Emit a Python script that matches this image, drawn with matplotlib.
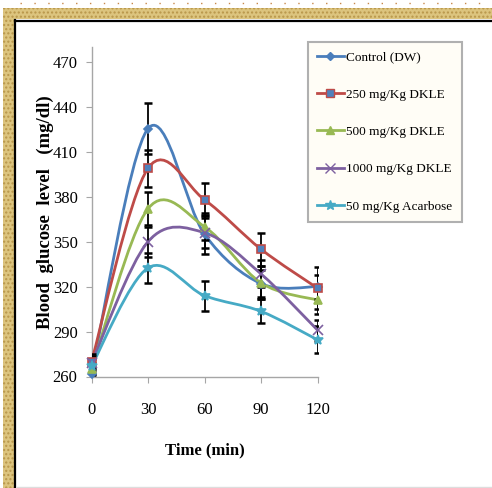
import matplotlib.pyplot as plt
from matplotlib.path import Path
from matplotlib.patches import PathPatch, Rectangle
from matplotlib.lines import Line2D
import numpy as np

plt.rcParams['font.family'] = ['Liberation Serif', 'DejaVu Serif']

time = [0, 30, 60, 90, 120]
labels = ['Control (DW)', '250 mg/Kg DKLE', '500 mg/Kg DKLE', '1000 mg/Kg DKLE', '50 mg/Kg Acarbose']
control = [262, 425.5, 355, 322, 320]
dkle250 = [270, 399, 378, 345, 319]
dkle500 = [265, 372, 360, 322.5, 311]
dkle1000 = [269, 350, 356, 328.5, 291]
acarbose = [267, 332.5, 314, 303.5, 284.5]
err_control = [4, 17, 13, 9, 8]
err_250 = [5, 12.5, 11, 11, 14]
err_500 = [4, 11, 9, 11, 9]
err_1000 = [5, 10, 10, 9, 7]
err_acarbose = [5, 10, 10, 8, 9]

series = [control, dkle250, dkle500, dkle1000, acarbose]
errors = [err_control, err_250, err_500, err_1000, err_acarbose]
colors = ['#4a7ebb', '#be4b48', '#98b954', '#7d60a0', '#46aac5']
markers = ['D', 's', '^', 'x', '*']
msizes = [4, 6, 6, 7, 7]
mfaces = ['#4a7ebb', '#4f81bd', '#98b954', '#7d60a0', '#46aac5']


def smooth_path(xs, ys):
    # excel style smoothed line: bezier through every point
    pts = np.column_stack([xs, ys]).astype(float)
    n = len(pts)
    verts = [pts[0]]
    codes = [Path.MOVETO]
    for i in range(n - 1):
        p0 = pts[max(i - 1, 0)]
        p1 = pts[i]
        p2 = pts[i + 1]
        p3 = pts[min(i + 2, n - 1)]
        verts += [p1 + (p2 - p0) / 6.0, p2 - (p3 - p1) / 6.0, p2]
        codes += [Path.CURVE4] * 3
    return Path(verts, codes)


fig = plt.figure(figsize=(4.92, 4.88), dpi=100)
W, H = 492.0, 488.0

# decorative frame
band = '#dcc47e'
fig.patches.append(Rectangle((3 / W, 1 - 488 / H), 11 / W, 480 / H, transform=fig.transFigure,
                             facecolor=band, edgecolor='#b8964a', hatch='....', lw=0, zorder=0))
fig.patches.append(Rectangle((3 / W, 1 - 19 / H), 489 / W, 11 / H, transform=fig.transFigure,
                             facecolor=band, edgecolor='#b8964a', hatch='....', lw=0, zorder=0))
fig.lines.append(Line2D([15.5 / W, 15.5 / W], [1 - 20 / H, 0], transform=fig.transFigure, color='black', lw=1.6))
fig.lines.append(Line2D([15 / W, 1], [1 - 20.5 / H, 1 - 20.5 / H], transform=fig.transFigure, color='black', lw=1.6))
fig.lines.append(Line2D([20 / W, 1], [1 - 3 / H, 1 - 3 / H], transform=fig.transFigure, color='#c8884a',
                        lw=1, linestyle=(0, (1, 9))))
fig.lines.append(Line2D([17 / W, 1], [1 - 486.5 / H, 1 - 486.5 / H], transform=fig.transFigure, color='#dddddd', lw=1))

ax = fig.add_axes([91.5 / W, 1 - 376.5 / H, (317.5 - 91.5) / W, (376.5 - 47) / H])

for vals, err, c, m, ms, mf in zip(series, errors, colors, markers, msizes, mfaces):
    ax.add_patch(PathPatch(smooth_path(time, vals), facecolor='none', edgecolor=c, lw=2, zorder=3))
    ax.errorbar(time, vals, yerr=err, fmt='none', ecolor='black', elinewidth=1.3, capsize=3, capthick=1.8, zorder=4)
    ax.plot(time, vals, linestyle='none', marker=m, markersize=ms, color=c, markerfacecolor=mf,
            markeredgecolor=c, markeredgewidth=1.2, zorder=5, clip_on=False)

ax.set_xlim(0, 120)
ax.set_ylim(260, 480)
ax.set_xticks(time)
ax.set_yticks(np.arange(260, 471, 30))
for s in ['top', 'right']:
    ax.spines[s].set_visible(False)
for s in ['left', 'bottom']:
    ax.spines[s].set_color('#a6a6a6')
    ax.spines[s].set_linewidth(1)
ax.tick_params(axis='both', direction='out', length=4, color='#a6a6a6', labelsize=12)
ax.tick_params(axis='x', pad=14)
ax.tick_params(axis='y', pad=6)

ax.set_xlabel('Time (min)', fontsize=12, fontweight='bold', labelpad=18)
ax.set_ylabel('Blood  glucose  level   (mg/dl)', fontsize=13.5, fontweight='bold', labelpad=-1)

handles = [Line2D([0], [0], color=c, lw=2, marker=m, markersize=ms, markerfacecolor=mf, markeredgecolor=c)
           for c, m, ms, mf in zip(colors, markers, msizes, mfaces)]
leg = fig.legend(handles, labels, loc='upper left', bbox_to_anchor=(308 / W, 1 - 42 / H),
                 fontsize=9.5, labelspacing=1.9, handlelength=2.0, handletextpad=0.2,
                 borderpad=0.7, borderaxespad=0, fancybox=False, framealpha=1)
leg.get_frame().set_facecolor('#fffdf6')
leg.get_frame().set_edgecolor('#b0b0b0')
leg.get_frame().set_linewidth(1.5)

fig.savefig('out.png', dpi=100)
